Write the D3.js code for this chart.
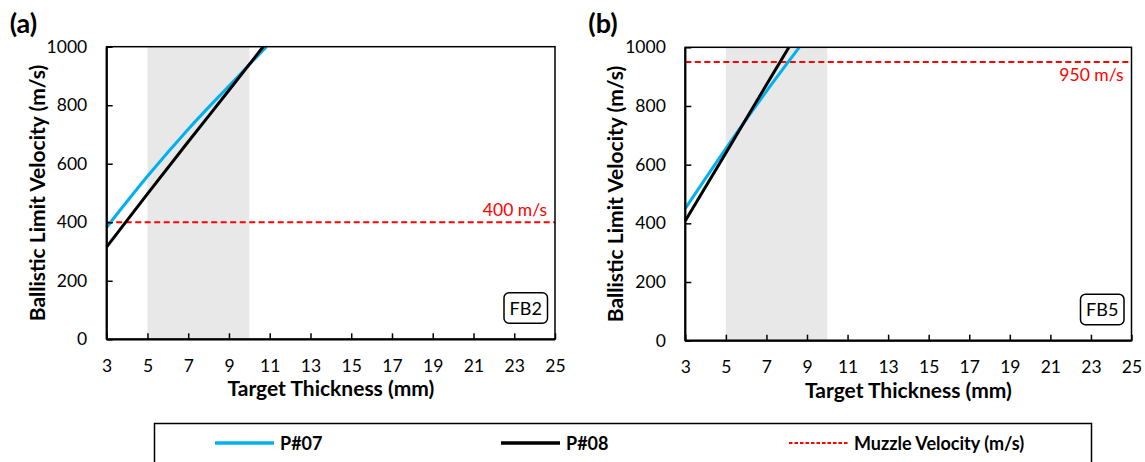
<!DOCTYPE html>
<html>
<head>
<meta charset="utf-8">
<script src="https://cdn.jsdelivr.net/npm/d3@7"></script>
<style>
  body { margin: 0; background: #fff; }
  svg { font-family: Lato, "Noto Sans", sans-serif; }
  .domain { display: none; }
</style>
</head>
<body>
<svg id="chart" width="1145" height="462"></svg>
<script>
// tick values
const xTicks = [3, 5, 7, 9, 11, 13, 15, 17, 19, 21, 23, 25];
const yTicks = [0, 200, 400, 600, 800, 1000];

// ballistic limit curves: [thickness mm, velocity m/s]
const fb2P07 = [[3, 383], [5, 557], [7, 718], [9, 866], [10.84, 1000]];
const fb2P08 = [[3, 316], [5, 497], [7, 675], [9, 851], [10.68, 1000]];
const fb5P07 = [[3, 451], [5, 655], [7, 850], [8.62, 1000]];
const fb5P08 = [[3, 409], [5, 640], [7, 872], [8.11, 1000]];

const muzzle = [400, 950];
const shadeRange = [5, 10];
const panelNames = ['FB2', 'FB5'];
const panelTags = ['(a)', '(b)'];

const svg = d3.select('#chart');

// one object per panel, pixel box of each plot area
const panels = [
  {left: 106.7, right: 555, top: 46.7, bottom: 339.3, p07: fb2P07, p08: fb2P08, v: muzzle[0], name: panelNames[0], tag: panelTags[0], labelAbove: true},
  {left: 685.3, right: 1131.5, top: 47.3, bottom: 340.7, p07: fb5P07, p08: fb5P08, v: muzzle[1], name: panelNames[1], tag: panelTags[1], labelAbove: false}
];

panels.forEach(p => {
  const x = d3.scaleLinear().domain([3, 25]).range([p.left, p.right]);
  const y = d3.scaleLinear().domain([0, 1000]).range([p.bottom, p.top]);

  // grey band
  svg.append('rect')
    .attr('x', x(shadeRange[0]))
    .attr('y', y(1000))
    .attr('width', x(shadeRange[1]) - x(shadeRange[0]))
    .attr('height', y(0) - y(1000))
    .attr('fill', '#e8e8e8');

  // muzzle velocity line
  svg.append('line')
    .attr('x1', x(3)).attr('x2', x(25))
    .attr('y1', y(p.v)).attr('y2', y(p.v))
    .attr('stroke', '#ff0000')
    .attr('stroke-width', 2)
    .attr('stroke-dasharray', '6,3.5');

  svg.append('text')
    .attr('x', x(25) - 8)
    .attr('y', p.labelAbove ? y(p.v) - 6 : y(p.v) + 19)
    .attr('text-anchor', 'end')
    .attr('fill', '#ff0000')
    .attr('font-size', 17.5)
    .text(p.v + ' m/s');

  const line = d3.line()
    .x(d => x(d[0]))
    .y(d => y(d[1]))
    .curve(d3.curveMonotoneX);

  svg.append('path').datum(p.p07)
    .attr('d', line)
    .attr('fill', 'none')
    .attr('stroke', '#00b0f0')
    .attr('stroke-width', 3);

  svg.append('path').datum(p.p08)
    .attr('d', line)
    .attr('fill', 'none')
    .attr('stroke', '#000')
    .attr('stroke-width', 3);

  // frame
  svg.append('rect')
    .attr('x', p.left).attr('y', p.top)
    .attr('width', p.right - p.left).attr('height', p.bottom - p.top)
    .attr('fill', 'none')
    .attr('stroke', '#000')
    .attr('stroke-width', 1.5);

  // axes, ticks point inward
  const gx = svg.append('g')
    .attr('transform', `translate(0,${p.bottom})`)
    .call(d3.axisBottom(x).tickValues(xTicks).tickSizeInner(-6).tickSizeOuter(0).tickPadding(20));
  const gy = svg.append('g')
    .attr('transform', `translate(${p.left},0)`)
    .call(d3.axisLeft(y).tickValues(yTicks).tickFormat(d3.format('d')).tickSizeInner(-6).tickSizeOuter(0).tickPadding(19.5));

  [gx, gy].forEach(g => {
    g.selectAll('text').attr('font-size', 17.5).attr('font-family', 'Lato, "Noto Sans", sans-serif').attr('fill', '#000');
    g.selectAll('line').attr('stroke', '#000').attr('stroke-width', 1.5);
  });

  svg.append('line')
    .attr('x1', p.left).attr('x2', p.right)
    .attr('y1', p.bottom).attr('y2', p.bottom)
    .attr('stroke', '#000').attr('stroke-width', 2.2);
  svg.append('line')
    .attr('x1', p.left).attr('x2', p.left)
    .attr('y1', p.top).attr('y2', p.bottom)
    .attr('stroke', '#000').attr('stroke-width', 2.2);

  // axis titles
  svg.append('text')
    .attr('x', (p.left + p.right) / 2)
    .attr('y', p.bottom + 57)
    .attr('text-anchor', 'middle')
    .attr('font-weight', 'bold')
    .attr('font-size', 21)
    .text('Target Thickness (mm)');

  svg.append('text')
    .attr('transform', `translate(${p.left - 62},${(p.top + p.bottom) / 2}) rotate(-90)`)
    .attr('text-anchor', 'middle')
    .attr('font-weight', 'bold')
    .attr('font-size', 21)
    .text('Ballistic Limit Velocity (m/s)');

  // panel tag
  svg.append('text')
    .attr('x', p.left - 97)
    .attr('y', 33)
    .attr('font-weight', 'bold')
    .attr('font-size', 27)
    .text(p.tag);

  // name box
  const bx = p.right - 51, by = p.bottom - 46.5;
  svg.append('rect')
    .attr('x', bx).attr('y', by)
    .attr('width', 43.5).attr('height', 30.5)
    .attr('rx', 5)
    .attr('fill', '#fff')
    .attr('stroke', '#000')
    .attr('stroke-width', 1.5);
  svg.append('text')
    .attr('x', bx + 21.75).attr('y', by + 22)
    .attr('text-anchor', 'middle')
    .attr('font-size', 18)
    .text(p.name);
});

// legend
const legendItems = [
  {label: 'P#07', color: '#00b0f0', width: 3.5, dash: null, x: 215},
  {label: 'P#08', color: '#000', width: 3.5, dash: null, x: 501},
  {label: 'Muzzle Velocity (m/s)', color: '#ff0000', width: 2, dash: '3.5,2', x: 789}
];

svg.append('rect')
  .attr('x', 154.5).attr('y', 423.5)
  .attr('width', 937).attr('height', 50)
  .attr('fill', '#fff')
  .attr('stroke', '#000')
  .attr('stroke-width', 1.5);

const li = svg.selectAll('g.leg').data(legendItems).enter().append('g')
  .attr('class', 'leg')
  .attr('transform', d => `translate(${d.x},443)`);

li.append('line')
  .attr('x1', 0).attr('x2', 59)
  .attr('stroke', d => d.color)
  .attr('stroke-width', d => d.width)
  .attr('stroke-dasharray', d => d.dash);

li.append('text')
  .attr('x', 65)
  .attr('y', 6.5)
  .attr('font-weight', 'bold')
  .attr('font-size', 18)
  .text(d => d.label);
</script>
</body>
</html>
